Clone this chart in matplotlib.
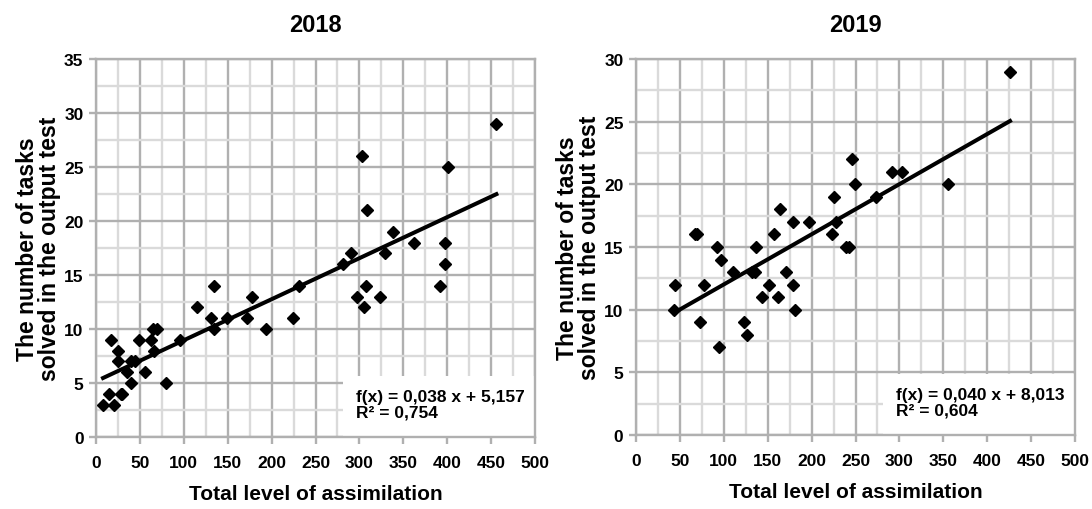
import numpy as np
import matplotlib
matplotlib.use("Agg")
from matplotlib import pyplot as plt
from matplotlib.patches import Rectangle

plt.rcParams["font.family"] = ["Liberation Sans Narrow", "Liberation Sans", "DejaVu Sans"]
plt.rcParams["font.weight"] = "bold"

# 2018 data
x_2018 = [8, 15, 20, 17, 25, 25, 28, 30, 35, 40, 40, 44, 49, 56, 63, 65, 69, 66, 80, 96,
          115, 131, 134, 134, 149, 172, 178, 194, 224, 231, 281, 290, 297, 303, 305, 308,
          309, 323, 329, 338, 362, 392, 398, 398, 401, 456]
y_2018 = [3, 4, 3, 9, 8, 7, 4, 4, 6, 5, 7, 7, 9, 6, 9, 10, 10, 8, 5, 9,
          12, 11, 14, 10, 11, 11, 13, 10, 11, 14, 16, 17, 13, 26, 12, 14,
          21, 13, 17, 19, 18, 14, 18, 16, 25, 29]
fit_2018 = (0.038, 5.157)
r2_2018 = "0,754"

# 2019 data
x_2019 = [44, 43, 67, 69, 73, 77, 92, 94, 97, 111, 132, 135, 123, 126, 137, 143, 151,
          157, 162, 164, 171, 179, 179, 181, 197, 223, 225, 228, 239, 243, 246, 249,
          273, 292, 303, 355, 426]
y_2019 = [12, 10, 16, 16, 9, 12, 15, 7, 14, 13, 13, 13, 9, 8, 15, 11, 12,
          16, 11, 18, 13, 17, 12, 10, 17, 16, 19, 17, 15, 15, 22, 20,
          19, 21, 21, 20, 29]
fit_2019 = (0.040, 8.013)
r2_2019 = "0,604"

major_c = "#b0b0b0"
minor_c = "#dadada"


def draw_panel(ax, x, y, fit, r2, ymax, title):
    ax.set_xlim(0, 500)
    ax.set_ylim(0, ymax)
    ax.set_xticks(np.arange(0, 501, 50))
    ax.set_xticks(np.arange(0, 501, 25), minor=True)
    ax.set_yticks(np.arange(0, ymax + 1, 5))
    ax.set_yticks(np.arange(0, ymax + 0.1, 2.5), minor=True)
    ax.set_axisbelow(True)
    ax.grid(which="minor", color=minor_c, linewidth=1.7)
    ax.grid(which="major", color=major_c, linewidth=1.7)
    ax.tick_params(which="minor", length=0)
    ax.tick_params(which="major", length=5, width=1.7, color=major_c, labelsize=12.5)
    ax.tick_params(axis="x", which="major", pad=8)
    ax.tick_params(axis="y", which="major", pad=4)
    for s in ax.spines.values():
        s.set_color(major_c)
        s.set_linewidth(1.7)

    # white box behind the equation
    ax.add_patch(Rectangle((0.563, 0), 0.437, 0.161, transform=ax.transAxes,
                           facecolor="white", edgecolor="none", zorder=1))

    ax.plot(x, y, linestyle="None", marker="D", markersize=6.0, color="black", zorder=3)
    a, b = fit
    xs = np.array([min(x), max(x)])
    ax.plot(xs, a * xs + b, color="black", linewidth=2.9, zorder=3)

    eq = "f(x) = {:.3f} x + {:.3f}".format(a, b).replace(".", ",")
    ax.text(0.593, 0.087, eq + "\nR² = " + r2, transform=ax.transAxes, fontsize=12.5,
            fontweight="bold", ha="left", va="center", linespacing=1.1, zorder=4)

    ax.set_title(title, fontsize=17, fontweight="bold", pad=20)
    ax.set_xlabel("Total level of assimilation", fontsize=15, fontweight="bold", labelpad=10)
    ax.set_ylabel("The number of tasks\nsolved in the output test", fontsize=16.5,
                  fontweight="bold", linespacing=0.95, labelpad=2)


fig = plt.figure(figsize=(10.92, 5.10), dpi=100)
ax1 = fig.add_axes([96 / 1092, 72 / 510, 439 / 1092, 378 / 510])
ax2 = fig.add_axes([636 / 1092, 74 / 510, 439 / 1092, 376 / 510])

draw_panel(ax1, x_2018, y_2018, fit_2018, r2_2018, 35, "2018")
draw_panel(ax2, x_2019, y_2019, fit_2019, r2_2019, 30, "2019")

fig.savefig("out.png", dpi=100)
